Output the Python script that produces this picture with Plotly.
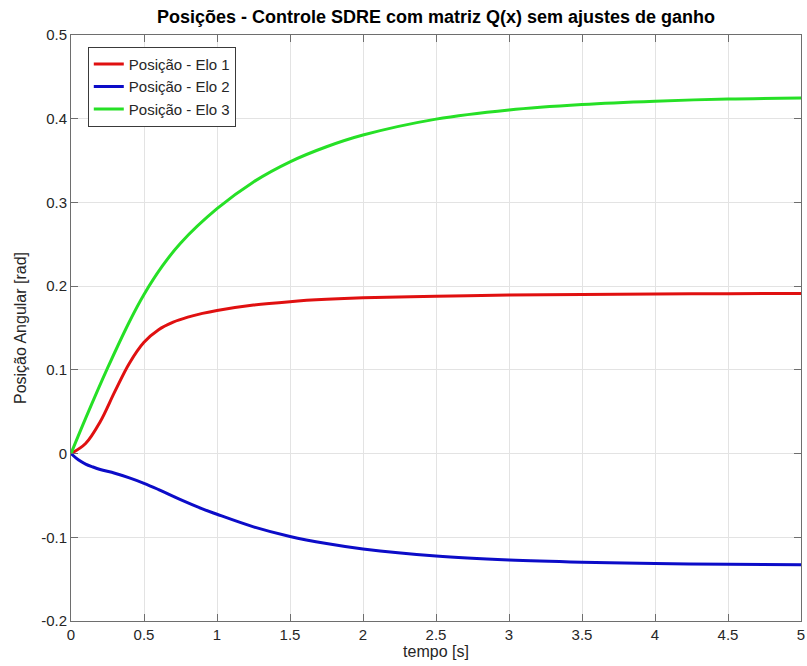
import plotly.graph_objects as go

# Time samples (s) and angular positions (rad) for each link
t_elo1 = [0, 0.1, 0.2, 0.3, 0.4, 0.5, 0.6, 0.7, 0.8, 0.9, 1.0, 1.25, 1.5, 1.75, 2.0, 2.5, 3.0, 3.5, 4.0, 4.5, 5.0]
pos_elo1 = [0, 0.012, 0.038, 0.074, 0.108, 0.133, 0.148, 0.157, 0.163, 0.1675, 0.171, 0.1775,
            0.1815, 0.1842, 0.186, 0.188, 0.1893, 0.1901, 0.1906, 0.191, 0.1913]

t_elo2 = [0, 0.05, 0.1, 0.15, 0.2, 0.3, 0.4, 0.5, 0.6, 0.75, 0.9, 1.0, 1.25, 1.5, 1.75, 2.0, 2.5,
          3.0, 3.5, 4.0, 4.5, 5.0]
pos_elo2 = [0, -0.0075, -0.0125, -0.016, -0.019, -0.0235, -0.029, -0.0355, -0.043, -0.055, -0.066,
            -0.0725, -0.0875, -0.099, -0.1075, -0.114, -0.1225, -0.1272, -0.1298, -0.1313, -0.1322,
            -0.1328]

t_elo3 = [0, 0.1, 0.25, 0.4, 0.5, 0.625, 0.75, 1.0, 1.25, 1.5, 1.75, 2.0, 2.5, 3.0, 3.5, 4.0, 4.5, 5.0]
pos_elo3 = [0, 0.042, 0.102, 0.1575, 0.19, 0.2238, 0.2513, 0.2925, 0.3245, 0.3485, 0.3665, 0.3805,
            0.3995, 0.4105, 0.417, 0.421, 0.4235, 0.4247]

x_ticks = [0, 0.5, 1, 1.5, 2, 2.5, 3, 3.5, 4, 4.5, 5]
x_tick_text = ["0", "0.5", "1", "1.5", "2", "2.5", "3", "3.5", "4", "4.5", "5"]
y_ticks = [-0.2, -0.1, 0, 0.1, 0.2, 0.3, 0.4, 0.5]
y_tick_text = ["-0.2", "-0.1", "0", "0.1", "0.2", "0.3", "0.4", "0.5"]

FONT = "Liberation Sans, Arial, sans-serif"
AXIS_COLOR = "#6e6e6e"
TEXT_COLOR = "#262626"

fig = go.Figure()
series = [
    ("Posição - Elo 1", t_elo1, pos_elo1, "#e01010"),
    ("Posição - Elo 2", t_elo2, pos_elo2, "#0c0cc8"),
    ("Posição - Elo 3", t_elo3, pos_elo3, "#26e026"),
]
for name, t, y, color in series:
    fig.add_trace(go.Scatter(
        x=t, y=y, name=name, mode="lines",
        line=dict(color=color, width=3, shape="spline", smoothing=1.0),
    ))

axis_common = dict(
    showline=True, linecolor=AXIS_COLOR, linewidth=1, mirror="ticks",
    ticks="inside", ticklen=7, tickcolor=AXIS_COLOR,
    showgrid=True, gridcolor="#e3e3e3", gridwidth=1, zeroline=False,
    tickfont=dict(family=FONT, size=15, color=TEXT_COLOR),
    ticklabeloverflow="allow",
)

fig.update_xaxes(
    range=[0, 5], tickvals=x_ticks, ticktext=x_tick_text,
    title=dict(text="tempo [s]", font=dict(family=FONT, size=16, color=TEXT_COLOR), standoff=2),
    **axis_common,
)
fig.update_yaxes(
    range=[-0.2, 0.5], tickvals=y_ticks, ticktext=y_tick_text,
    title=dict(text="Posição Angular [rad]", font=dict(family=FONT, size=16, color=TEXT_COLOR), standoff=10),
    **axis_common,
)

fig.update_layout(
    width=807, height=666,
    margin=dict(l=71, r=2, t=35, b=45),
    paper_bgcolor="white", plot_bgcolor="white",
    title=dict(
        text="<b>Posições - Controle SDRE com matriz Q(x) sem ajustes de ganho</b>",
        font=dict(family=FONT, size=18, color="#000000"),
        x=0.5, xref="paper", xanchor="center",
        y=1 - 17 / 666, yref="container", yanchor="middle",
    ),
    legend=dict(
        x=0.023, y=0.98, xanchor="left", yanchor="top",
        bgcolor="white", bordercolor="#3a3a3a", borderwidth=1,
        font=dict(family=FONT, size=15, color=TEXT_COLOR),
        tracegroupgap=0, itemwidth=30,
    ),
    showlegend=True,
)

fig.write_html("out.html")
